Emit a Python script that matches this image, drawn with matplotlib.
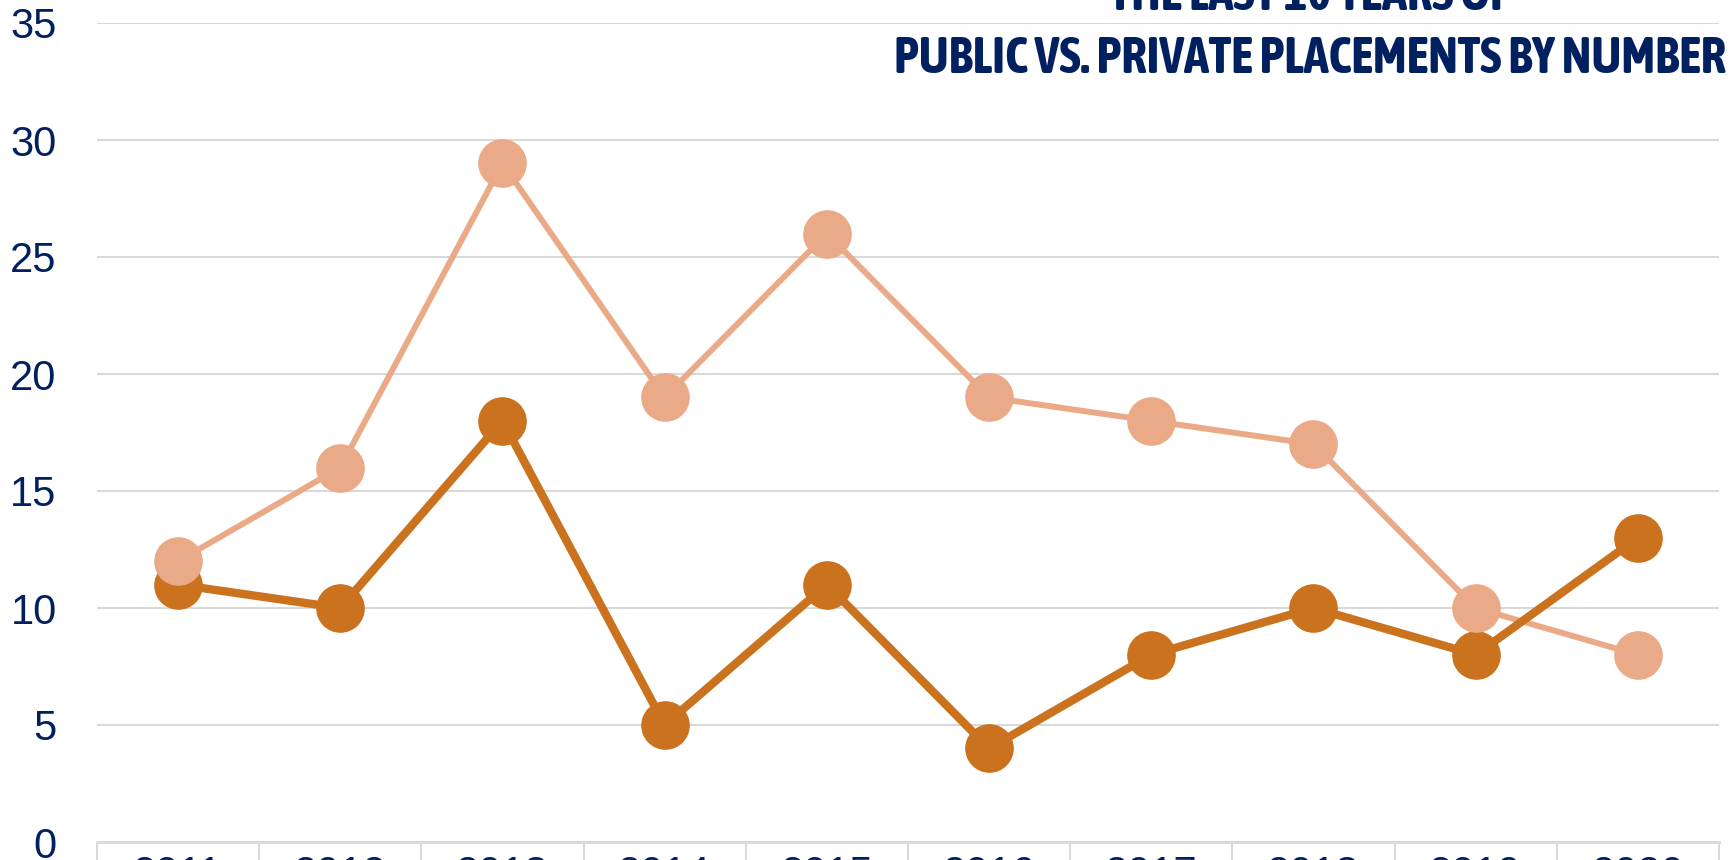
import matplotlib.pyplot as plt
from matplotlib import font_manager

# Data
years = ['2011', '2012', '2013', '2014', '2015', '2016', '2017', '2018', '2019', '2020']
private = [12, 16, 29, 19, 26, 19, 18, 17, 10, 8]
public = [11, 10, 18, 5, 11, 4, 8, 10, 8, 13]
yticks = [0, 5, 10, 15, 20, 25, 30, 35]
title1 = 'THE LAST 10 YEARS OF'
title2 = 'PUBLIC VS. PRIVATE PLACEMENTS BY NUMBER'

# condensed bold face for the title if one is installed (Arial Narrow look-alike first)
fonts = font_manager.fontManager.ttflist
bold_narrow = [f.name for f in fonts
               if ('Narrow' in f.name or 'Condensed' in f.name) and f.weight in (600, 700, 'bold', 'semibold')]
bold_narrow.sort(key=lambda n: 0 if n.startswith('Liberation Sans Narrow') else 1)
title_font = bold_narrow[0] if bold_narrow else 'Liberation Sans'

navy = '#002060'
grid = '#D9D9D9'

fig = plt.figure(figsize=(17.33, 8.6), dpi=100)
ax = fig.add_axes([97 / 1733, 18 / 860, (1719 - 97) / 1733, (842 - 23) / 860])

x = list(range(len(years)))
ax.plot(x, private, color='#EBAA87', lw=4.3, zorder=3)
ax.plot(x, public, color='#CB721F', lw=6, zorder=4)
ax.plot(x, public, ls='none', marker='o', ms=34, color='#CB721F', zorder=5)
ax.plot(x, private, ls='none', marker='o', ms=34, color='#EBAA87', zorder=6)

ax.set_xlim(-0.5, len(years) - 0.5)
ax.set_ylim(0, 35)
ax.set_yticks(yticks)
ax.set_yticklabels([str(v) for v in yticks], fontsize=30, color=navy, family='Liberation Sans')
ax.tick_params(axis='y', length=0, pad=29)
ax.yaxis.grid(True, color=grid, lw=1.5)
ax.set_axisbelow(True)

ax.set_xticks(x)
ax.set_xticklabels(years, fontsize=30, color=navy, family='Liberation Sans')
ax.tick_params(axis='x', which='major', length=0, pad=9.5)
ax.set_xticks([i - 0.5 for i in range(len(years) + 1)], minor=True)
ax.tick_params(axis='x', which='minor', length=30, width=1.5, color=grid, direction='out')

for s in ['top', 'right', 'left']:
    ax.spines[s].set_visible(False)
ax.spines['bottom'].set_color(grid)
ax.spines['bottom'].set_linewidth(2)

t1 = fig.text(1310 / 1733, 1 - 10 / 860, title1, ha='center', va='baseline',
              fontsize=33, fontweight='bold', color=navy, family=title_font)
t2 = fig.text(1310 / 1733, 1 - 73 / 860, title2, ha='center', va='baseline',
              fontsize=33, fontweight='bold', color=navy, family=title_font)

# fit the second title line to its width in the original (~834 px)
fig.canvas.draw()
w = t2.get_window_extent().width
size = 33 * 834 / w
t1.set_fontsize(size)
t2.set_fontsize(size)

fig.savefig('out.png', dpi=100)
